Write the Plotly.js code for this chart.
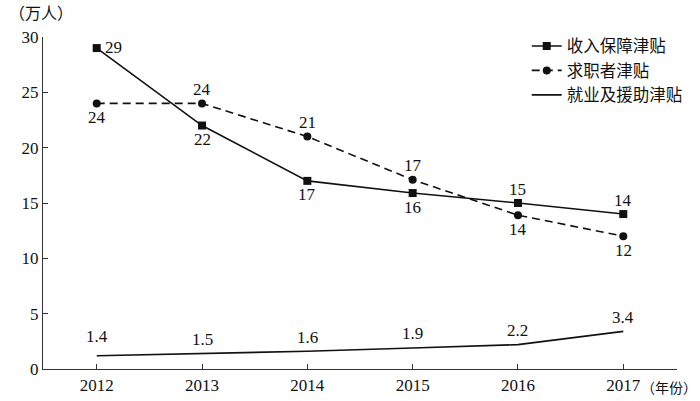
<!DOCTYPE html>
<html><head><meta charset="utf-8">
<script src="https://cdn.plot.ly/plotly-3.0.1.min.js"></script>
<style>html,body{margin:0;padding:0;background:#fff}#chart{width:700px;height:401px}</style>
</head><body><div id="chart"></div>
<script>
const years = [2012, 2013, 2014, 2015, 2016, 2017];
const seriesNames = ["收入保障津贴", "求职者津贴", "就业及援助津贴"];
const incomeSupport = [29, 22, 17, 15.9, 15, 14];
const jobSeeker = [24, 24, 21, 17.1, 13.9, 12];
const employmentAssist = [1.2, 1.4, 1.6, 1.9, 2.2, 3.4];
const incomeLabels = ["29", "22", "17", "16", "15", "14"];
const jobLabels = ["24", "24", "21", "17", "14", "12"];
const assistLabels = ["1.4", "1.5", "1.6", "1.9", "2.2", "3.4"];
const incomeLabelPos = ["right", "below", "below", "below", "above", "above"];
const jobLabelPos = ["below", "above", "above", "above", "below", "below"];
const assistLabelPos = ["above", "above", "above", "above", "above", "above"];
const yTicks = [0, 5, 10, 15, 20, 25, 30];

const serif = "Liberation Serif";
const cjk = "Noto Sans CJK SC";
const numFont = {family: serif, size: 17, color: "#111"};

const traces = [
  {x: years, y: incomeSupport, name: seriesNames[0], mode: "lines+markers",
   line: {color: "#111", width: 1.6}, marker: {symbol: "square", size: 8, color: "#111"}},
  {x: years, y: jobSeeker, name: seriesNames[1], mode: "lines+markers",
   line: {color: "#111", width: 1.6, dash: "8px,5px"}, marker: {symbol: "circle", size: 8, color: "#111"}},
  {x: years, y: employmentAssist, name: seriesNames[2], mode: "lines",
   line: {color: "#111", width: 1.6}}
];

const annotations = [];
function addLabels(vals, labels, pos) {
  vals.forEach((v, i) => {
    const p = pos[i];
    const a = {x: years[i], y: v, xref: "x", yref: "y", text: labels[i], showarrow: false,
      font: numFont, xanchor: "center", yanchor: "middle", xshift: 0, yshift: 0};
    if (p === "above") a.yshift = 14;
    else if (p === "below") a.yshift = -14;
    else if (p === "right") { a.xanchor = "left"; a.xshift = 6; a.yshift = 1; }
    annotations.push(a);
  });
}
addLabels(incomeSupport, incomeLabels, incomeLabelPos);
addLabels(jobSeeker, jobLabels, jobLabelPos);
addLabels(employmentAssist, assistLabels, assistLabelPos);
annotations[12].yshift = 19;

annotations.push({xref: "paper", yref: "paper", x: -0.057, y: 1.0, yshift: 25, text: "（万人）",
  showarrow: false, xanchor: "left", yanchor: "middle", font: {family: cjk, size: 16, color: "#111"}});
annotations.push({xref: "paper", yref: "paper", x: 1.0, y: 0, yshift: -18, xshift: -38, text: "（年份）",
  showarrow: false, xanchor: "left", yanchor: "middle", font: {family: cjk, size: 14, color: "#111"}});

const layout = {
  width: 700, height: 401,
  margin: {l: 43, r: 23, t: 37, b: 32},
  paper_bgcolor: "#fff", plot_bgcolor: "#fff",
  showlegend: true,
  legend: {x: 0.763, y: 1.025, xanchor: "left", yanchor: "top", itemwidth: 30,
    font: {family: cjk, size: 16.5, color: "#111"}, bgcolor: "rgba(0,0,0,0)", tracegroupgap: 0},
  xaxis: {range: [2011.49, 2017.51], tickvals: years, ticktext: years.map(String),
    showline: true, linecolor: "#333", linewidth: 1.2, ticks: "inside", ticklen: 5, tickcolor: "#333",
    showgrid: false, zeroline: false, tickfont: numFont},
  yaxis: {range: [0, 30], tickvals: yTicks, showline: true, linecolor: "#333", linewidth: 1.2,
    ticks: "inside", ticklen: 5, tickcolor: "#333", showgrid: false, zeroline: false, tickfont: numFont},
  annotations: annotations
};
Plotly.newPlot("chart", traces, layout, {staticPlot: true, displayModeBar: false});
</script></body></html>
